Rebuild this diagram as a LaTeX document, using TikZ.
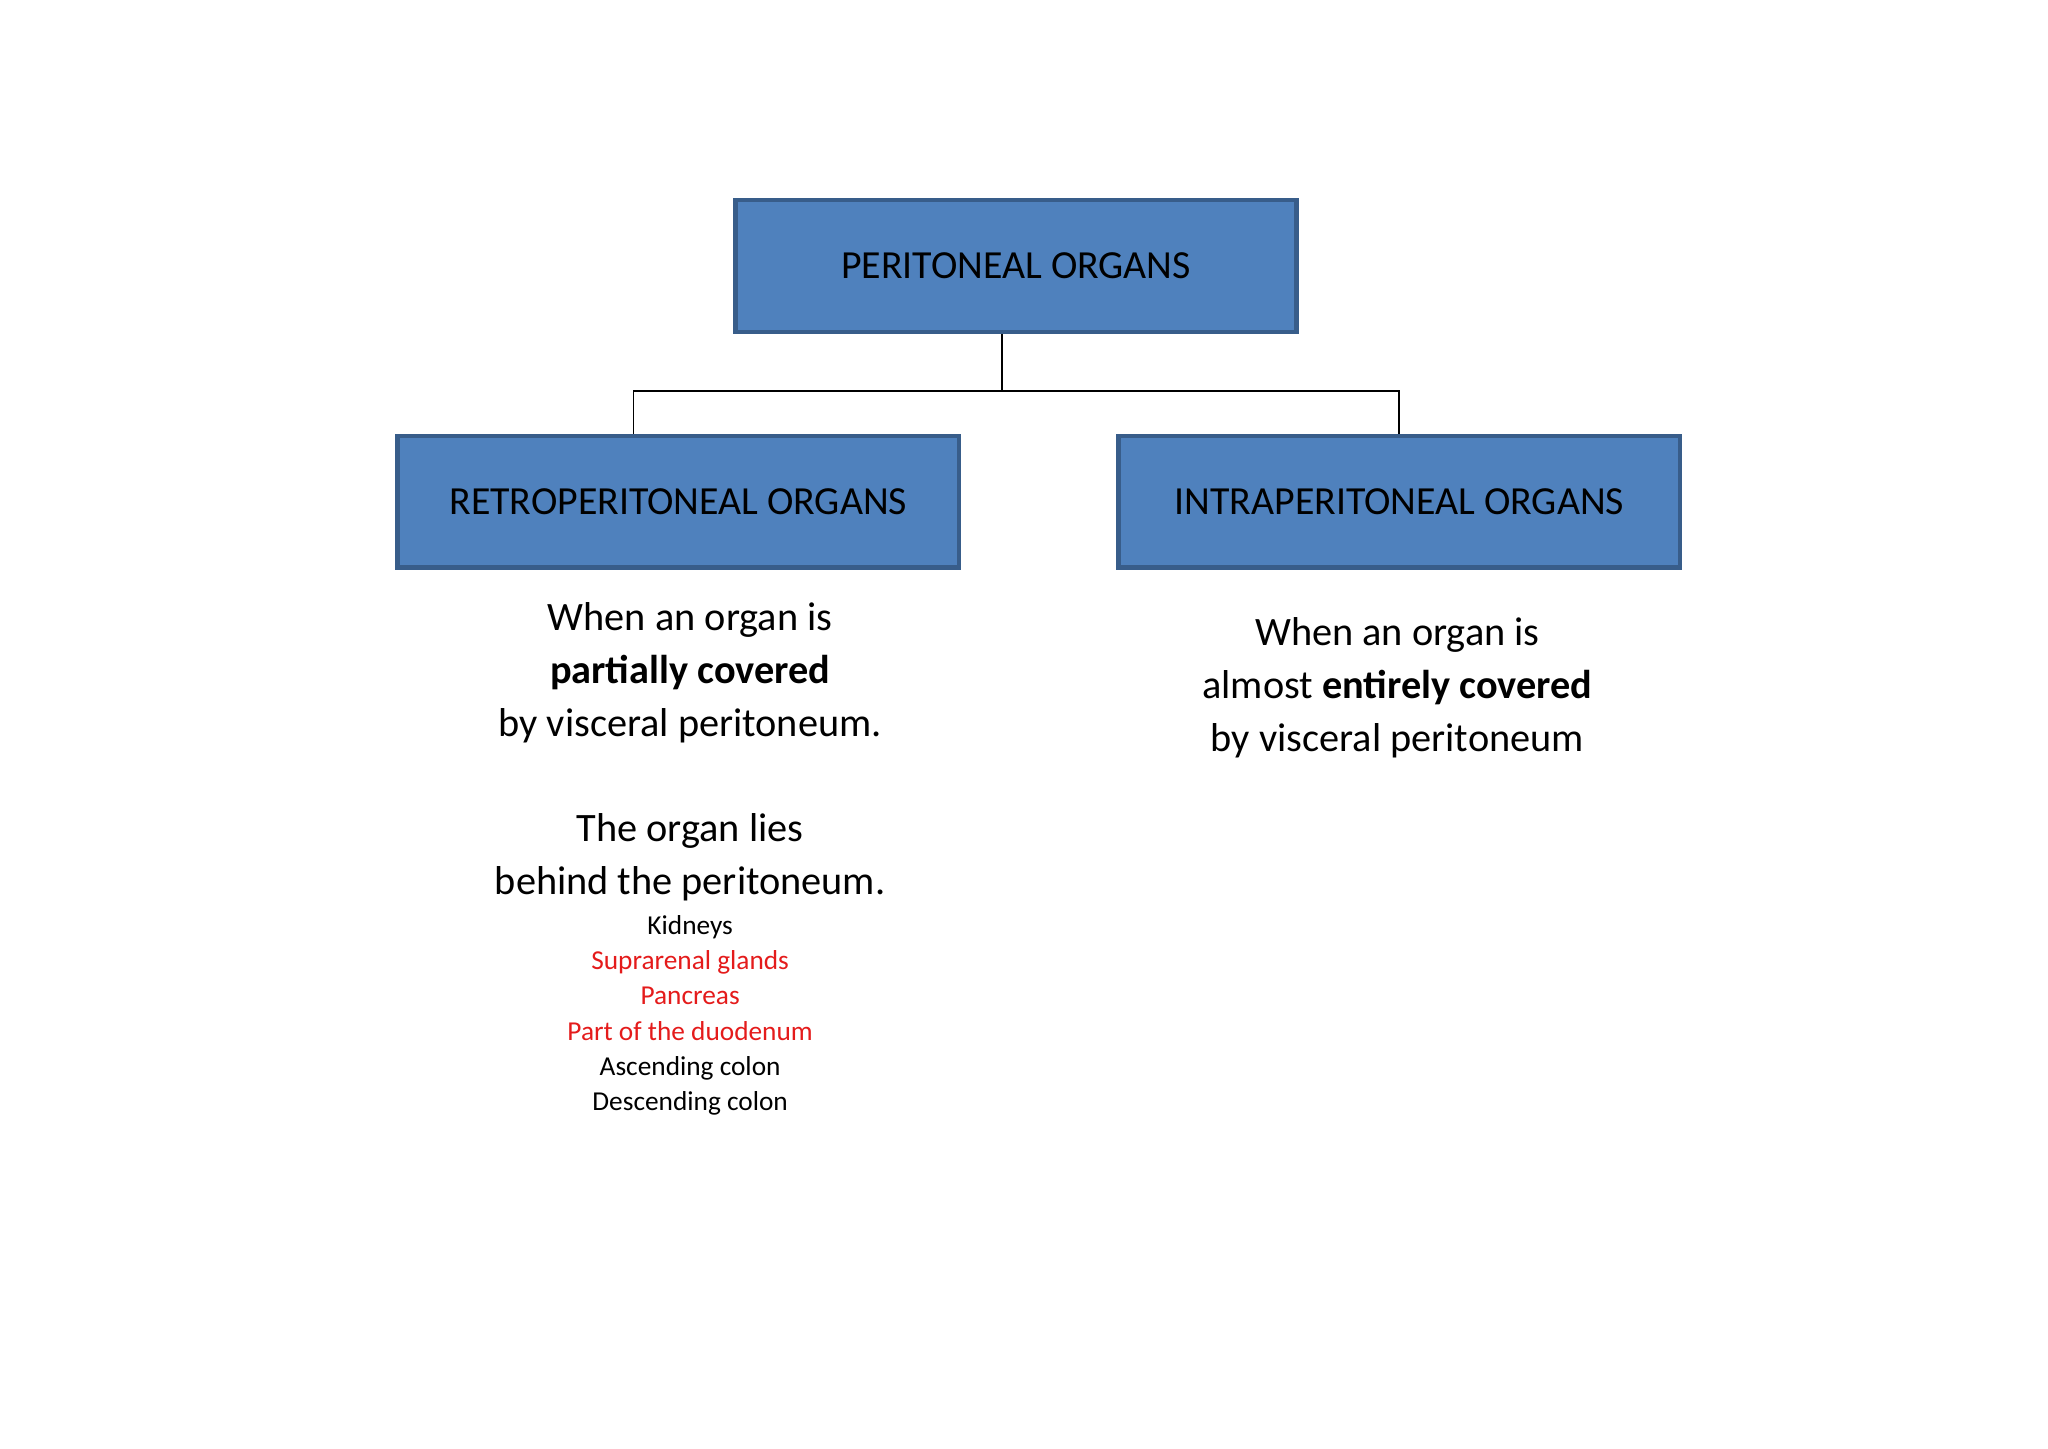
\documentclass[tikz,border=0pt]{standalone}
\usepackage{fontspec}
\setmainfont{Carlito}
\definecolor{boxfill}{HTML}{4F81BD}
\definecolor{boxdraw}{HTML}{385D8A}
\definecolor{redtxt}{HTML}{E41B1B}
\begin{document}
\begin{tikzpicture}[x=0.01cm,y=-0.01cm,
  orgbox/.style={draw=boxdraw,line width=1pt,fill=boxfill,minimum width=4.26cm,minimum height=1cm,font=\fontsize{8.6}{10}\selectfont,inner sep=0pt},
  body/.style={align=center,font=\fontsize{8.7}{11.4}\selectfont,inner sep=0pt},
  small/.style={align=center,font=\fontsize{5.9}{7.6}\selectfont,inner sep=0pt}]
\useasboundingbox (0,0) rectangle (1555,1100);
\node[orgbox] (top) at (771.5,202) {PERITONEAL ORGANS};
\node[orgbox] (retro) at (515,381) {RETROPERITONEAL ORGANS};
\node[orgbox] (intra) at (1062.5,381) {INTRAPERITONEAL ORGANS};
\coordinate (j) at (761,297);
\draw[line width=0.4pt] (top.south -| j) -- (j);
\draw[line width=0.4pt] (retro.north -| 481,0) |- (j) -| (intra.north);
\node[body] (rtext) at (524,511) {When an organ is\\\textbf{partially covered}\\by visceral peritoneum.};
\node[body] (rtext2) at (524,651) {The organ lies\\behind the peritoneum.};
\node[small] (list) at (524,771) {Kidneys\\\textcolor{redtxt}{Suprarenal glands}\\\textcolor{redtxt}{Pancreas}\\\textcolor{redtxt}{Part of the duodenum}\\Ascending colon\\Descending colon};
\node[body] (itext) at (1061,522) {When an organ is\\almost \textbf{entirely covered}\\by visceral peritoneum};
\end{tikzpicture}
\end{document}
